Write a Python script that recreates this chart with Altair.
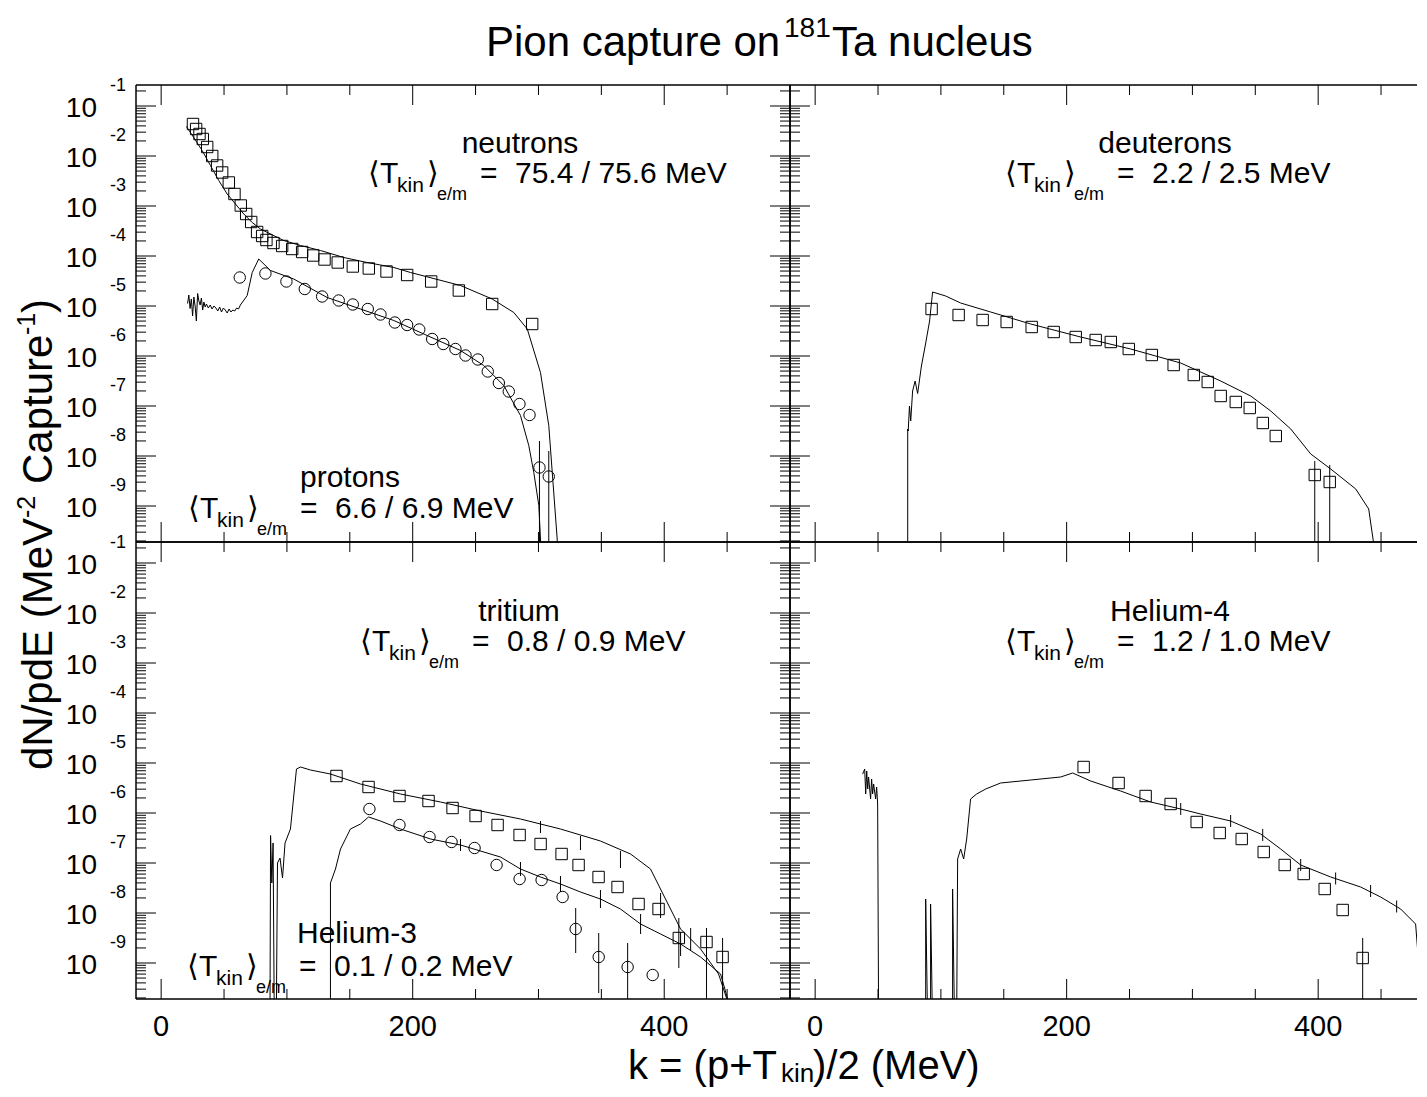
import altair as alt
import pandas as pd

FONT = "Liberation Sans"

# ---------------- axes (data units) ----------------
X_DOMAIN_L = [-20, 500]
X_DOMAIN_R = [-20, 478.6]          # right column is cut by the page edge
Y_DOMAIN = [10 ** -9.72, 10 ** -0.58]
X_MAJOR = [0, 200, 400]
X_MINOR = [50, 100, 150, 250, 300, 350, 450]
X_LABELS = ["0", "200", "400"]
Y_MAJOR_EXP = [-1, -2, -3, -4, -5, -6, -7, -8, -9]
Y_MINOR_MULT = [2, 3, 4, 5, 6, 7, 8, 9]

# ---------------- data (x in MeV, y as log10) ----------------
NEU_SQ_X = [25.3, 27.8, 30.5, 33.1, 36.6, 40.6, 44.5, 48.5, 53.8, 58.3, 63.3, 67.6, 71.6, 76.3, 80.3,
            83.7, 89.3, 96.2, 104.2, 112.1, 120.9, 129.9, 140.4, 152.4, 165.1, 179.2, 195.6, 214.7,
            236.7, 263.2, 295.0]
NEU_SQ_LY = [-1.36, -1.46, -1.56, -1.66, -1.82, -2.0, -2.19, -2.33, -2.53, -2.76, -2.99, -3.16, -3.32,
             -3.52, -3.6, -3.68, -3.74, -3.8, -3.86, -3.92, -3.99, -4.07, -4.13, -4.21, -4.25, -4.31,
             -4.38, -4.51, -4.69, -4.96, -5.36]
NEU_LN_X = [20.1, 25.9, 32.6, 39.2, 45.8, 52.5, 59.1, 65.7, 72.4, 79.0, 86.9, 97.5, 110.8, 126.7, 145.2,
            163.8, 185.0, 198.3, 238.0, 263.2, 280.4, 291.1, 301.6, 308.2, 314.9, 315.5]
NEU_LN_LY = [-1.41, -1.63, -1.89, -2.19, -2.49, -2.76, -2.96, -3.16, -3.33, -3.46, -3.56, -3.69, -3.79,
             -3.89, -4.03, -4.13, -4.23, -4.33, -4.59, -4.86, -5.13, -5.46, -6.33, -7.39, -9.66, -10.3]

PRO_CI_X = [62.5, 82.9, 99.6, 114.2, 128.0, 141.2, 152.4, 164.3, 174.4, 185.8, 195.6, 205.2, 215.5,
            224.3, 234.0, 242.0, 251.8, 259.7, 268.5, 276.4, 284.9, 292.9, 300.8, 308.2]
PRO_CI_LY = [-4.43, -4.35, -4.51, -4.66, -4.81, -4.89, -4.97, -5.06, -5.17, -5.33, -5.38, -5.47, -5.66,
             -5.76, -5.86, -5.99, -6.07, -6.31, -6.54, -6.71, -6.96, -7.18, -8.23, -8.41]
PRO_ERR_X = [300.8, 308.2]
PRO_ERR_LO = [-10.3, -10.3]
PRO_ERR_HI = [-7.7, -7.9]
PRO_LN_X = [21, 22, 23, 24, 25, 26, 27, 28, 29, 30, 31, 32, 33, 34, 35, 36, 37.5, 39, 40.5, 42, 43.5,
            45, 46.5, 48, 49.5, 51, 52.5, 54, 55.5, 57, 58.5, 60, 61.5, 63,
            68.4, 72.4, 77.6, 86.9, 105.4, 132.0, 158.5, 185.0, 211.5, 238.0, 256.5, 272.4, 285.7,
            292.3, 296.3, 300.3, 301.6, 302.4]
PRO_LN_LY = [-4.95, -4.78, -5.05, -4.86, -5.20, -4.82, -5.00, -5.30, -4.75, -4.90, -4.98, -4.84, -5.08,
             -4.92, -5.02, -4.96, -5.04, -4.98, -5.06, -5.00, -5.04, -5.10, -5.02, -5.12, -5.04, -5.08,
             -5.14, -5.06, -5.12, -5.08, -5.10, -5.04, -5.06, -4.98,
             -4.79, -4.33, -4.06, -4.29, -4.46, -4.83, -5.06, -5.29, -5.59, -5.89, -6.19, -6.59, -7.19,
             -7.79, -8.33, -8.99, -9.66, -10.3]

DEU_SQ_X = [92.6, 114.1, 133.2, 152.3, 172.2, 189.7, 207.2, 223.1, 235.1, 249.4, 267.7, 285.1, 301.1,
            312.2, 322.5, 334.5, 345.6, 356.0, 366.3, 397.3, 409.2]
DEU_SQ_LY = [-5.06, -5.18, -5.28, -5.32, -5.42, -5.52, -5.62, -5.68, -5.72, -5.86, -5.98, -6.18, -6.38,
             -6.52, -6.80, -6.92, -7.04, -7.34, -7.60, -8.38, -8.52]
DEU_ERR_X = [397.3, 409.2]
DEU_ERR_LO = [-10.3, -10.3]
DEU_ERR_HI = [-8.10, -8.18]
DEU_LN_X = [73.6, 73.6, 74.0, 75.0, 76.0, 77.5, 79.5, 81.5, 84.5, 87.5, 91.0, 93.4, 103.8, 115.7, 139.6,
            171.4, 211.1, 250.9, 290.7, 322.5, 346.4, 362.3, 378.2, 394.1, 410.0, 429.9, 440.2, 444.2,
            445.0]
DEU_LN_LY = [-10.3, -7.46, -7.5, -7.0, -7.3, -6.7, -6.5, -6.75, -6.2, -5.8, -5.3, -4.72, -4.80, -4.94,
             -5.12, -5.36, -5.62, -5.86, -6.14, -6.50, -6.80, -7.10, -7.46, -7.96, -8.26, -8.66, -9.06,
             -9.76, -10.3]

TRI_SQ_X = [139.4, 164.9, 189.5, 212.6, 231.7, 250.0, 267.5, 285.0, 301.7, 318.4, 331.9, 347.8, 362.9,
            379.6, 395.5, 411.6, 433.6, 446.4]
TRI_SQ_LY = [-5.26, -5.48, -5.66, -5.76, -5.90, -6.06, -6.24, -6.44, -6.62, -6.82, -7.04, -7.28, -7.48,
             -7.82, -7.92, -8.50, -8.58, -8.88]
TRI_ERR_X = [411.6, 433.6, 446.4]
TRI_ERR_LO = [-9.1, -10.3, -10.3]
TRI_ERR_HI = [-8.1, -8.3, -8.5]
TRI_LN_X = [86.5, 87.0, 88.0, 89.0, 90.0, 91.5, 92.5, 94.5, 96.5, 98.5, 102.8, 105.2, 107.6, 110.8,
            118.7, 134.6, 158.5, 190.3, 222.1, 253.9, 285.7, 317.5, 349.3, 373.2, 389.1, 401.0, 413.0,
            428.9, 443.2, 451.1, 452.7]
TRI_LN_LY = [-10.3, -6.45, -7.4, -6.6, -10.3, -10.3, -7.0, -6.9, -7.3, -6.6, -6.32, -5.72, -5.12, -5.08,
             -5.14, -5.22, -5.42, -5.62, -5.78, -5.96, -6.12, -6.32, -6.56, -6.82, -7.12, -7.72, -8.32,
             -8.72, -9.22, -9.82, -10.3]
TRI_MC_X = [301.6, 333.4, 365.2, 397.1, 421.0]
TRI_MC_LO = [-6.40, -6.74, -7.10, -8.10, -8.75]
TRI_MC_HI = [-6.16, -6.46, -6.76, -7.60, -8.30]

HE3_CI_X = [165.6, 189.5, 213.4, 230.9, 249.2, 266.7, 285.0, 302.5, 319.2, 329.6, 347.9, 370.9, 390.8]
HE3_CI_LY = [-5.92, -6.24, -6.48, -6.58, -6.70, -7.04, -7.32, -7.34, -7.68, -8.32, -8.88, -9.08, -9.24]
HE3_ERR_X = [329.6, 347.9, 370.9]
HE3_ERR_LO = [-8.8, -9.6, -10.3]
HE3_ERR_HI = [-7.9, -8.4, -8.6]
HE3_LN_X = [134.6, 134.6, 138.6, 142.6, 150.5, 158.5, 164.9, 174.4, 190.3, 214.2, 238.0, 269.8, 285.7,
            301.6, 317.5, 333.4, 349.3, 365.2, 381.2, 397.1, 413.0, 428.9, 444.8, 452.7, 453.5]
HE3_LN_LY = [-10.3, -7.40, -7.12, -6.72, -6.32, -6.22, -6.08, -6.16, -6.32, -6.52, -6.64, -6.88, -7.12,
             -7.28, -7.42, -7.58, -7.72, -7.92, -8.22, -8.42, -8.62, -8.88, -9.22, -9.92, -10.3]
HE3_MC_X = [238.0, 285.7, 317.5, 349.3, 381.2, 413.0]
HE3_MC_LO = [-6.76, -7.26, -7.58, -7.90, -8.42, -8.86]
HE3_MC_HI = [-6.52, -6.98, -7.26, -7.54, -8.02, -8.38]

HE4_SQ_X = [213.5, 241.3, 262.8, 282.7, 303.4, 321.7, 339.2, 356.7, 373.4, 388.5, 405.2, 419.5, 435.4]
HE4_SQ_LY = [-5.08, -5.40, -5.66, -5.82, -6.18, -6.40, -6.52, -6.78, -7.04, -7.22, -7.52, -7.94, -8.90]
HE4_ERR_X = [435.4]
HE4_ERR_LO = [-10.3]
HE4_ERR_HI = [-8.5]
HE4_LN_X = [37.8, 39.4, 40.2, 41.0, 41.8, 42.5, 44.1, 44.9, 45.7, 46.5, 48.1, 48.9, 49.7, 50.5,
            87.9, 87.9, 89.5, 91.8, 91.8, 93.4, 109.3, 109.3, 110.9, 112.5, 113.3, 115.7, 118.1, 120.5,
            123.6, 128.4, 135.6, 147.5, 171.4, 195.2, 204.8, 219.1, 242.9, 266.8, 290.7, 306.6, 330.4,
            354.3, 370.2, 386.1, 410.0, 433.8, 449.7, 465.6, 477.5, 483.9]
HE4_LN_LY = [-5.22, -5.12, -5.62, -5.16, -5.52, -5.28, -5.72, -5.32, -5.62, -5.42, -5.72, -5.48, -5.82,
             -10.3, -10.3, -7.72, -10.3, -10.3, -7.82, -10.3, -10.3, -7.52, -10.3, -10.3, -6.92, -6.72,
             -6.92, -6.52, -5.72, -5.62, -5.52, -5.40, -5.34, -5.28, -5.20, -5.36, -5.56, -5.78, -5.92,
             -6.02, -6.16, -6.42, -6.72, -7.04, -7.28, -7.48, -7.68, -7.92, -8.22, -10.3]
HE4_MC_X = [290.7, 330.4, 355.9, 386.1, 413.9, 441.7, 462.4]
HE4_MC_LO = [-6.04, -6.28, -6.56, -7.16, -7.43, -7.68, -7.99]
HE4_MC_HI = [-5.80, -6.04, -6.32, -6.92, -7.19, -7.44, -7.75]

# ---------------- helpers ----------------
W_L, W_R, H = 654, 627, 457
DUMMY = pd.DataFrame({"a": [0]})


def xenc(field, dom):
    return alt.X(f"{field}:Q", scale=alt.Scale(domain=dom, nice=False, zero=False), axis=None)


def yenc(field):
    return alt.Y(f"{field}:Q", scale=alt.Scale(type="log", domain=Y_DOMAIN, nice=False), axis=None)


def df_xy(xs, lys):
    return pd.DataFrame({"x": xs, "y": [10 ** v for v in lys], "i": list(range(len(xs)))})


def line(xs, lys, dom):
    return alt.Chart(df_xy(xs, lys)).mark_line(color="black", strokeWidth=1, clip=True).encode(
        x=xenc("x", dom), y=yenc("y"), order="i:Q")


def pts(xs, lys, dom, shape):
    return alt.Chart(df_xy(xs, lys)).mark_point(shape=shape, size=130, filled=False, color="black",
                                                strokeWidth=1, opacity=1, clip=True).encode(
        x=xenc("x", dom), y=yenc("y"))


def errs(xs, lo, hi, dom):
    d = pd.DataFrame({"x": xs, "lo": [10 ** v for v in lo], "hi": [10 ** v for v in hi]})
    return alt.Chart(d).mark_rule(color="black", strokeWidth=1, clip=True).encode(
        x=xenc("x", dom), y=yenc("lo"), y2="hi:Q")


def txt(s, x, y, size, align="left", angle=0):
    kw = dict(text=s, fontSize=size, font=FONT, align=align, baseline="alphabetic", color="black")
    if angle:
        kw["angle"] = angle
    return alt.Chart(DUMMY).mark_text(**kw).encode(x=alt.value(x), y=alt.value(y))


def tkin(x0, yb, value):
    return [
        txt("⟨T", x0, yb, 30),
        txt("kin", x0 + 29, yb + 9, 21),
        txt("⟩", x0 + 59, yb, 30),
        txt("e/m", x0 + 69, yb + 17, 18),
        txt("=", x0 + 112, yb, 30),
        txt(value, x0 + 147, yb, 30),
    ]


def hrule(x1, x2, y, sw=1.5):
    return alt.Chart(DUMMY).mark_rule(color="black", strokeWidth=sw).encode(
        x=alt.value(x1), x2=alt.value(x2), y=alt.value(y))


def vrule(x, y1, y2, sw=1.5):
    return alt.Chart(DUMMY).mark_rule(color="black", strokeWidth=sw).encode(
        x=alt.value(x), y=alt.value(y1), y2=alt.value(y2))


Y_MAJ_VALS = [10.0 ** e for e in Y_MAJOR_EXP]
Y_MIN_VALS = [m * 10.0 ** e for e in range(-10, 0) for m in Y_MINOR_MULT
              if Y_DOMAIN[0] <= m * 10.0 ** e <= Y_DOMAIN[1]]


def frame_and_ticks(w, dom, full_right):
    ymaj = pd.DataFrame({"v": Y_MAJ_VALS})
    ymin = pd.DataFrame({"v": Y_MIN_VALS})
    xmaj = pd.DataFrame({"v": [v for v in X_MAJOR if dom[0] <= v <= dom[1]]})
    xmin = pd.DataFrame({"v": [v for v in X_MINOR if dom[0] <= v <= dom[1]]})
    L = []

    def yt(d, a, b):
        return alt.Chart(d).mark_rule(color="black", strokeWidth=1).encode(
            y=yenc("v"), x=alt.value(a), x2=alt.value(b))

    def xt(d, a, b):
        return alt.Chart(d).mark_rule(color="black", strokeWidth=1).encode(
            x=xenc("v", dom), y=alt.value(a), y2=alt.value(b))

    L += [yt(ymaj, 0, 20), yt(ymin, 0, 10)]
    if full_right:
        L += [yt(ymaj, w - 20, w), yt(ymin, w - 10, w)]
    L += [xt(xmaj, 0, 20), xt(xmin, 0, 10), xt(xmaj, H - 20, H), xt(xmin, H - 10, H)]
    L += [hrule(0, w, 0), hrule(0, w, H), vrule(0, 0, H)]
    if full_right:
        L += [vrule(w, 0, H)]
    return L


def y_labels():
    ymaj = pd.DataFrame({"v": Y_MAJ_VALS, "e": [str(e) for e in Y_MAJOR_EXP]})
    base = alt.Chart(ymaj)
    return [
        base.mark_text(text="10", fontSize=28, font=FONT, align="right", baseline="alphabetic",
                       dy=11, color="black").encode(y=yenc("v"), x=alt.value(-39)),
        base.mark_text(fontSize=18, font=FONT, align="left", baseline="alphabetic",
                       dy=-15, color="black").encode(y=yenc("v"), x=alt.value(-26), text="e:N"),
    ]


def x_labels(dom):
    d = pd.DataFrame({"v": X_MAJOR, "t": X_LABELS})
    d = d[(d.v >= dom[0]) & (d.v <= dom[1])]
    return [alt.Chart(d).mark_text(fontSize=29, font=FONT, align="center", baseline="alphabetic",
                                   color="black").encode(x=xenc("v", dom), y=alt.value(494), text="t:N")]


# ---------------- panels ----------------
# top-left: neutrons & protons
tl = frame_and_ticks(W_L, X_DOMAIN_L, True) + y_labels()
tl += [line(NEU_LN_X, NEU_LN_LY, X_DOMAIN_L), pts(NEU_SQ_X, NEU_SQ_LY, X_DOMAIN_L, "square"),
       line(PRO_LN_X, PRO_LN_LY, X_DOMAIN_L), pts(PRO_CI_X, PRO_CI_LY, X_DOMAIN_L, "circle"),
       errs(PRO_ERR_X, PRO_ERR_LO, PRO_ERR_HI, X_DOMAIN_L)]
tl += [txt("neutrons", 384, 68, 30, "center")] + tkin(232, 98, "75.4 / 75.6 MeV")
tl += [txt("protons", 214, 402, 30, "center")] + tkin(52, 433, "6.6 / 6.9 MeV")
# title
tl += [txt("Pion capture on", 350, -29, 42), txt("181", 648, -48, 28), txt("Ta nucleus", 696, -29, 42)]
# y axis title (rotated)
tl += [txt("dN/pdE (MeV", -84, 685, 42, angle=270), txt("-2", -101, 433, 25, angle=270),
       txt("Capture", -84, 399, 42, angle=270), txt("-1", -101, 250, 25, angle=270),
       txt(")", -84, 228, 42, angle=270)]
# layout anchor (invisible)
tl += [alt.Chart(DUMMY).mark_rule(opacity=0, strokeWidth=0).encode(
    x=alt.value(-128), x2=alt.value(-128), y=alt.value(-77), y2=alt.value(-77))]
TL = alt.layer(*tl).properties(width=W_L, height=H)

# top-right: deuterons
tr = frame_and_ticks(W_R, X_DOMAIN_R, False)
tr += [line(DEU_LN_X, DEU_LN_LY, X_DOMAIN_R), pts(DEU_SQ_X, DEU_SQ_LY, X_DOMAIN_R, "square"),
       errs(DEU_ERR_X, DEU_ERR_LO, DEU_ERR_HI, X_DOMAIN_R)]
tr += [txt("deuterons", 375, 68, 30, "center")] + tkin(215, 98, "2.2 / 2.5 MeV")
TR = alt.layer(*tr).properties(width=W_R, height=H)

# bottom-left: tritium & helium-3
bl = frame_and_ticks(W_L, X_DOMAIN_L, True) + y_labels() + x_labels(X_DOMAIN_L)
bl += [line(TRI_LN_X, TRI_LN_LY, X_DOMAIN_L), pts(TRI_SQ_X, TRI_SQ_LY, X_DOMAIN_L, "square"),
       errs(TRI_ERR_X, TRI_ERR_LO, TRI_ERR_HI, X_DOMAIN_L),
       errs(TRI_MC_X, TRI_MC_LO, TRI_MC_HI, X_DOMAIN_L),
       line(HE3_LN_X, HE3_LN_LY, X_DOMAIN_L), pts(HE3_CI_X, HE3_CI_LY, X_DOMAIN_L, "circle"),
       errs(HE3_ERR_X, HE3_ERR_LO, HE3_ERR_HI, X_DOMAIN_L),
       errs(HE3_MC_X, HE3_MC_LO, HE3_MC_HI, X_DOMAIN_L)]
bl += [txt("tritium", 383, 79, 30, "center")] + tkin(224, 109, "0.8 / 0.9 MeV")
bl += [txt("Helium-3", 221, 401, 30, "center")] + tkin(51, 434, "0.1 / 0.2 MeV")
bl += [txt("k = (p+T", 492, 537, 40), txt("kin", 645, 540, 26), txt(")/2 (MeV)", 677, 537, 40)]
BL = alt.layer(*bl).properties(width=W_L, height=H)

# bottom-right: helium-4
br = frame_and_ticks(W_R, X_DOMAIN_R, False) + x_labels(X_DOMAIN_R)
br += [line(HE4_LN_X, HE4_LN_LY, X_DOMAIN_R), pts(HE4_SQ_X, HE4_SQ_LY, X_DOMAIN_R, "square"),
       errs(HE4_ERR_X, HE4_ERR_LO, HE4_ERR_HI, X_DOMAIN_R),
       errs(HE4_MC_X, HE4_MC_LO, HE4_MC_HI, X_DOMAIN_R)]
br += [txt("Helium-4", 380, 79, 30, "center")] + tkin(215, 109, "1.2 / 1.0 MeV")
BR = alt.layer(*br).properties(width=W_R, height=H)

chart = alt.ConcatChart(concat=[TL, TR, BL, BR], columns=2, spacing=0, bounds="flush",
                        padding=0, background="white").configure_view(stroke=None)

chart.save("out.html", embed_options={"renderer": "svg", "actions": False})
